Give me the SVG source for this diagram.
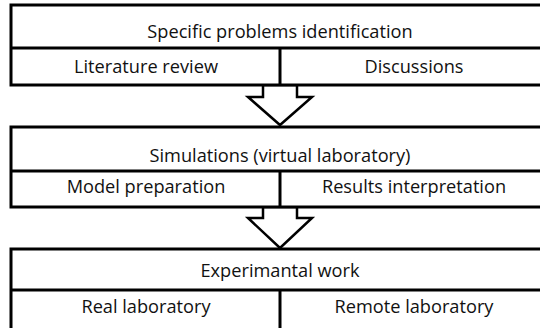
<svg xmlns="http://www.w3.org/2000/svg" width="540" height="328" viewBox="0 0 540 328">
<style>
.b{fill:#fff;stroke:#000;stroke-width:3}
.l{stroke:#000;stroke-width:3;fill:none}
.a{fill:#fff;stroke:#000;stroke-width:2.5;stroke-linejoin:miter}
text{font-family:"Open Sans","Noto Sans",sans-serif;font-size:18.2px;fill:#111;text-anchor:middle}
</style>
<rect width="540" height="328" fill="#fff"/>
<g id="connectors">
<polygon class="a" points="263,85 297,85 297,97 312,97 280,125 248,97 263,97"/>
<polygon class="a" points="263,207 297,207 297,218 312,218 280,248 248,218 263,218"/>
</g>
<g id="stage1">
<rect class="b" x="11" y="5" width="540" height="80"/>
<line class="l" x1="11" y1="48" x2="551" y2="48"/>
<line class="l" x1="280" y1="48" x2="280" y2="85"/>
<text x="280" y="38">Specific problems identification</text>
<text x="146" y="73">Literature review</text>
<text x="414" y="73">Discussions</text>
</g>
<g id="stage2">
<rect class="b" x="11" y="127" width="540" height="80"/>
<line class="l" x1="11" y1="171" x2="551" y2="171"/>
<line class="l" x1="280" y1="171" x2="280" y2="207"/>
<text x="280" y="162">Simulations (virtual laboratory)</text>
<text x="146" y="193">Model preparation</text>
<text x="414" y="193">Results interpretation</text>
</g>
<g id="stage3">
<rect class="b" x="11" y="249" width="540" height="90"/>
<line class="l" x1="11" y1="290" x2="551" y2="290"/>
<line class="l" x1="280" y1="290" x2="280" y2="330"/>
<text x="280" y="277">Experimantal work</text>
<text x="146" y="313">Real laboratory</text>
<text x="414" y="313">Remote laboratory</text>
</g>
</svg>
